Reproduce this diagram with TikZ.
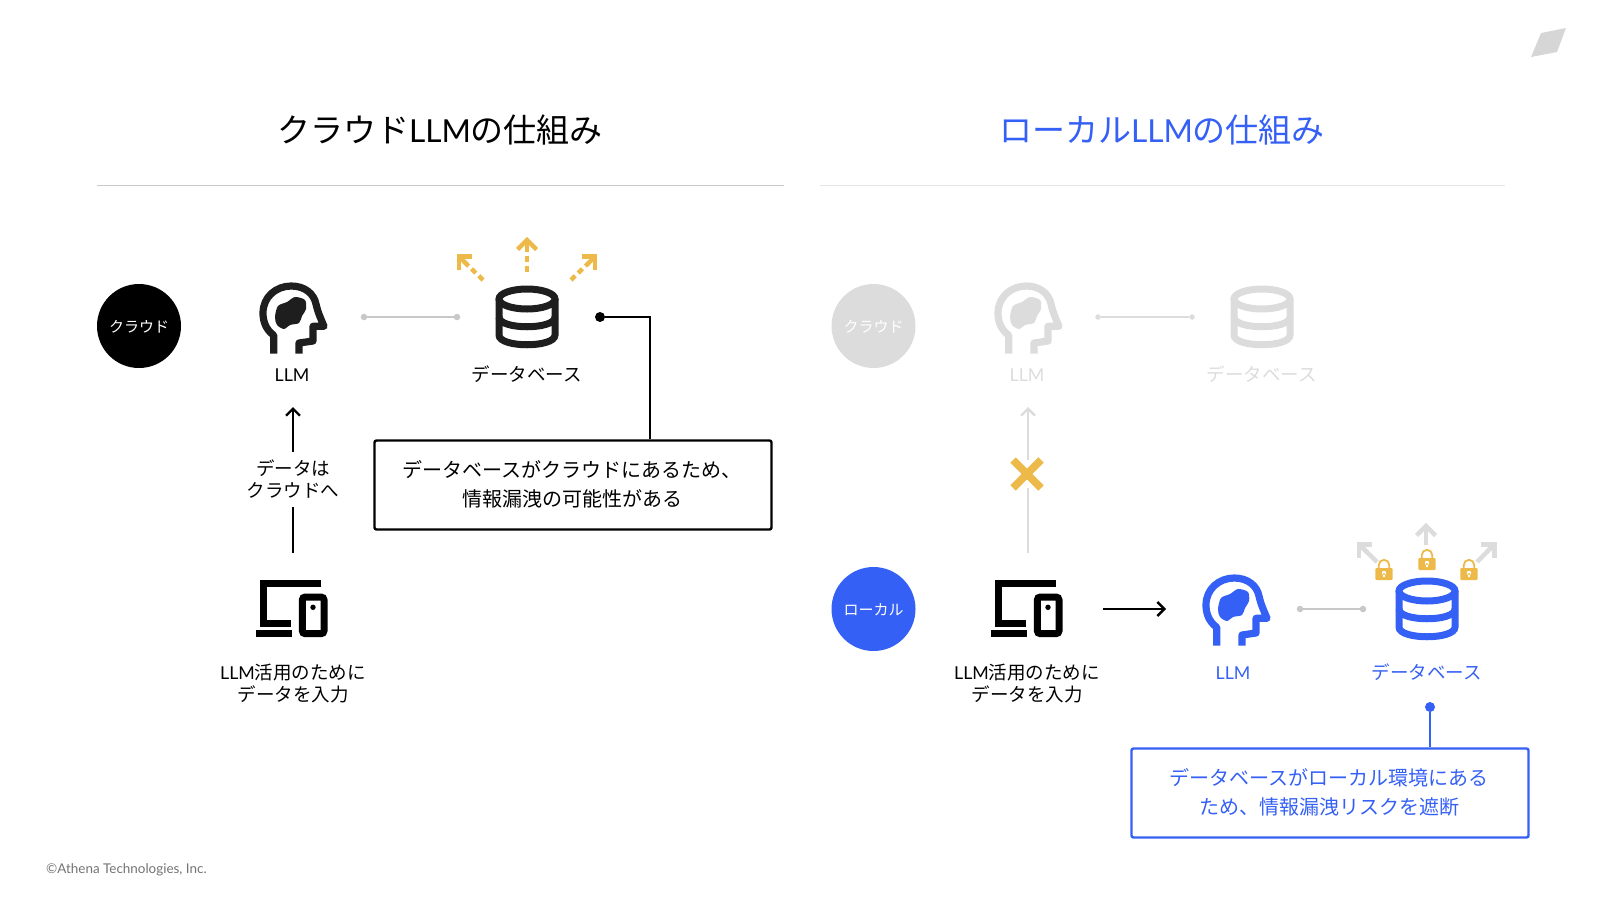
\documentclass[tikz,border=0pt]{standalone}
\usepackage{fontspec}
\setmainfont{Noto Sans CJK JP}
\newfontfamily\latinfont[Scale=0.96]{Lato}
\usetikzlibrary{arrows.meta}
\definecolor{bluecol}{HTML}{3560F5}
\definecolor{yellowcol}{HTML}{EDB949}
\definecolor{iconcol}{HTML}{1E1E1E}
\definecolor{ghostcol}{HTML}{DCDCDC}
\definecolor{linecol}{HTML}{C8C8C8}
\tikzset{
  headicon/.pic={
    \draw[line width=7.2pt,line join=round] (-19.3,36.7) -- (-19.3,18.3) .. controls (-28,12) and (-30,3) .. (-30,-4)
      .. controls (-30,-20) and (-17,-31) .. (-1.7,-31) .. controls (12,-31) and (21,-23) .. (23,-13)
      .. controls (25,-4) and (28,2) .. (31,9.3) -- (20,9.3) -- (20,24) -- (6,26) -- (6,36.7);
    \fill plot[smooth cycle] coordinates {(-18,0) (-15,-11) (-6,-15) (2,-20) (12,-17) (13,-8) (9,-1) (6,6) (-3,8) (-9,12) (-16,8)};
  },
  dbicon/.pic={
    \draw[line width=7pt] (0,-18) ellipse [x radius=28pt,y radius=10pt];
    \draw[line width=7pt] (-28,-18) -- (-28,18) .. controls (-28,31) and (28,31) .. (28,18) -- (28,-18);
    \draw[line width=7pt] (-28,0) .. controls (-28,13) and (28,13) .. (28,0);
  },
  deviceicon/.pic={
    \draw[line width=7pt] (28.3,-24.3) -- (-30,-24.3) -- (-30,15) -- (-1.7,15);
    \fill (-36.7,21.7) rectangle (-1,29);
    \draw[line width=7pt,rounded corners=3pt] (9.3,-11) rectangle (31,25.7);
    \fill (20,-0.7) circle (2.7);
  },
  lockicon/.pic={
    \draw[line width=1.8pt] (-5.2,-4) -- (-5.2,-8) arc[start angle=180,end angle=0,radius=5.2pt] -- (5.2,-4);
    \fill[rounded corners=1pt] (-8.7,-5) rectangle (8.7,7);
    \fill[white] (0,0) circle (2.2) (-0.9,0) rectangle (0.9,4);
  },
  chevron/.pic={
    \draw[line width=4.4pt,miter limit=4] (-9.5,9.5) -- (0,0) -- (9.5,9.5);
    \draw[line width=4.4pt] (0,0) -- (0,12);
  },
  label/.style={font=\fontsize{18.5}{22}\selectfont,align=center,inner sep=0pt},
  titlelabel/.style={font=\fontsize{33}{36}\selectfont,inner sep=0pt},
  notelabel/.style={font=\fontsize{20}{29}\selectfont,align=center,inner sep=0pt},
  circlelabel/.style={circle,minimum size=84pt,inner sep=0pt,text=white,text height=14pt,text depth=1pt,font=\fontsize{15}{18}\selectfont},
  notebox/.style={draw,line width=2.4pt,rounded corners=2pt,minimum width=397pt,minimum height=89pt,inner sep=0pt},
  linedot/.style={circle,fill,inner sep=0pt,minimum size=6.5pt},
  leakline/.style={line width=4.4pt,dash pattern=on 6pt off 4pt},
  safeline/.style={line width=4.4pt}
}
\begin{document}
\begin{tikzpicture}[x=1pt,y=-1pt]
  \useasboundingbox (0,0) rectangle (1600,900);
  % Titel
  \node[titlelabel] (titlecloud) at (440,130) {クラウド{\latinfont LLM}の仕組み};
  \node[titlelabel,text=bluecol] (titlelocal) at (1162,130) {ローカル{\latinfont LLM}の仕組み};
  \draw[linecol,line width=1pt] (97,185) -- (784,185);
  \draw[ghostcol!70,line width=1pt] (820,185) -- (1505,185);
  \fill[black!16] (1541,33) -- (1566,28) -- (1557,52) -- (1531,57) -- cycle;

  % linke Seite
  \node[circlelabel,fill=black] (cloudtag) at (139,326) {クラウド};
  \pic[color=iconcol] at (293,317) {headicon};
  \pic[color=iconcol] at (527,317) {dbicon};
  \pic[color=black] at (293,608) {deviceicon};
  \node[label] (llmleft) at (292,375) {\latinfont LLM};
  \node[label] (dbleft) at (527,374.5) {データベース};
  \node[label] (inputleft) at (293,684) {{\latinfont LLM}活用のために\\データを入力};
  \node[label] (toclouds) at (293,479) {データは\\クラウドへ};
  \coordinate (deviceleft) at (293,553);
  \coordinate (llmbelow) at (293,407);
  \draw[line width=2.4pt] (deviceleft) -- (293,507);
  \draw[line width=2.4pt,->,>={Straight Barb[length=7pt,width=14pt]}] (293,452) -- (llmbelow);
  \node[linedot,fill=linecol] (lineA) at (364,317) {};
  \node[linedot,fill=linecol] (lineB) at (457,317) {};
  \draw[linecol,line width=2.6pt] (lineA) -- (lineB);
  % Pfeile Datenleck
  \coordinate (leakup) at (527,240);
  \coordinate (leakleft) at (459,256.6);
  \coordinate (leakright) at (595,256.6);
  \draw[yellowcol,leakline] (527,272) -- (leakup);
  \draw[yellowcol,leakline] (483,280) -- (leakleft);
  \draw[yellowcol,leakline] (571,280) -- (leakright);
  \pic[color=yellowcol] at (leakup) {chevron};
  \pic[color=yellowcol,rotate=45] at (leakleft) {chevron};
  \pic[color=yellowcol,rotate=-45] at (leakright) {chevron};
  % Hinweis links
  \node[notebox] (noteleft) at (573,485) {};
  \node[notelabel] (notelefttext) at (572,484.5) {データベースがクラウドにあるため、\\情報漏洩の可能性がある};
  \node[circle,fill,inner sep=0pt,minimum size=10pt] (dotleft) at (600,317) {};
  \draw[line width=2.4pt] (dotleft) -- (650,317) -- (noteleft.north -| 650,317);

  % rechte Seite
  \node[circlelabel,fill=ghostcol] (cloudghost) at (873.5,326) {クラウド};
  \pic[color=ghostcol] at (1028,317) {headicon};
  \pic[color=ghostcol] at (1262,317) {dbicon};
  \node[label,text=ghostcol] (llmghost) at (1027,375) {\latinfont LLM};
  \node[label,text=ghostcol] (dbghost) at (1262,374.5) {データベース};
  \node[linedot,fill=ghostcol,minimum size=5.5pt] (lineC) at (1098,317) {};
  \node[linedot,fill=ghostcol,minimum size=5.5pt] (lineD) at (1192,317) {};
  \draw[ghostcol,line width=2.4pt] (lineC) -- (lineD);
  \coordinate (devicegray) at (1028,553);
  \coordinate (llmgray) at (1028,407);
  \draw[ghostcol,line width=2.4pt,->,>={Straight Barb[length=7pt,width=14pt]}] (devicegray) -- (llmgray);
  \draw[white,line width=13pt] (1027,460) -- (1027,488);
  \draw[yellowcol,line width=7.5pt] (1013,460) -- (1041,488) (1041,460) -- (1013,488);

  \node[circlelabel,fill=bluecol] (localtag) at (873.5,609) {ローカル};
  \pic[color=black] at (1028,608) {deviceicon};
  \node[label] (inputright) at (1027,684) {{\latinfont LLM}活用のために\\データを入力};
  \coordinate (devicearrow) at (1103,609);
  \coordinate (llmarrow) at (1166,609);
  \draw[line width=2.4pt,->,>={Straight Barb[length=7pt,width=14pt]}] (devicearrow) -- (llmarrow);
  \pic[color=bluecol] at (1236,609) {headicon};
  \pic[color=bluecol] at (1427,609) {dbicon};
  \node[label,text=bluecol] (llmright) at (1233,673) {\latinfont LLM};
  \node[label,text=bluecol] (dbright) at (1427,672.5) {データベース};
  \node[linedot,fill=linecol] (lineE) at (1300,609) {};
  \node[linedot,fill=linecol] (lineF) at (1363,609) {};
  \draw[linecol,line width=2.6pt] (lineE) -- (lineF);
  % Pfeile und Schloesser
  \coordinate (safeup) at (1426,526);
  \coordinate (safeleft) at (1359,544.3);
  \coordinate (saferight) at (1494.4,544.3);
  \draw[ghostcol,safeline] (1426,545) -- (safeup);
  \draw[ghostcol,safeline] (1377,562) -- (safeleft);
  \draw[ghostcol,safeline] (1477,562) -- (saferight);
  \pic[color=ghostcol] at (safeup) {chevron};
  \pic[color=ghostcol,rotate=45] at (safeleft) {chevron};
  \pic[color=ghostcol,rotate=-45] at (saferight) {chevron};
  \pic[color=yellowcol] at (1384,573) {lockicon};
  \pic[color=yellowcol] at (1427,563) {lockicon};
  \pic[color=yellowcol] at (1469,573) {lockicon};
  % Hinweis rechts
  \node[notebox,draw=bluecol] (noteright) at (1330,793) {};
  \node[notelabel,text=bluecol] (noterighttext) at (1329,792) {データベースがローカル環境にある\\ため、情報漏洩リスクを遮断};
  \node[circle,fill=bluecol,inner sep=0pt,minimum size=10pt] (dotright) at (1430,707) {};
  \draw[bluecol,line width=2.4pt] (dotright) -- (noteright.north -| dotright);

  \node[inner sep=0pt,anchor=west,text=black!55,font=\fontsize{14}{16}\selectfont\latinfont] (copyright) at (46,870) {©Athena Technologies, Inc.};
\end{tikzpicture}
\end{document}
